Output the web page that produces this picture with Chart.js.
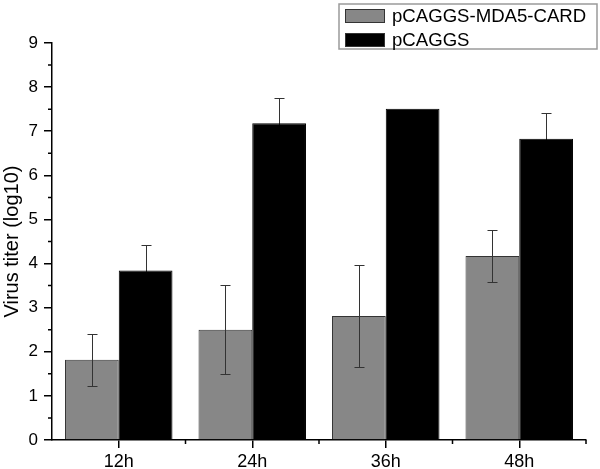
<!DOCTYPE html>
<html>
<head>
<meta charset="utf-8">
<script src="https://cdn.jsdelivr.net/npm/chart.js@4/dist/chart.umd.min.js"></script>
<style>
html,body{margin:0;padding:0;background:#fff;}
#wrap{width:600px;height:469px;position:relative;}
</style>
</head>
<body>
<div id="wrap"><canvas id="c" width="600" height="469"></canvas></div>
<script>
const categories = ["12h", "24h", "36h", "48h"];
const seriesNames = ["pCAGGS-MDA5-CARD", "pCAGGS"];
const mda5Values = [1.82, 2.50, 2.81, 4.17];
const mda5Errors = [0.59, 1.01, 1.15, 0.58];
const pcaggsValues = [3.84, 7.18, 7.51, 6.83];
const pcaggsErrors = [0.57, 0.58, 0, 0.58];
const yTicks = [0, 1, 2, 3, 4, 5, 6, 7, 8, 9];

const FONT = "'Liberation Sans', Arial, sans-serif";
const errors = [mda5Errors, pcaggsErrors];

function drawErrors(chart, di) {
  const ctx = chart.ctx;
  const ys = chart.scales.y;
  const ds = chart.data.datasets[di];
  const meta = chart.getDatasetMeta(di);
  ctx.save();
  ctx.strokeStyle = '#333';
  ctx.lineWidth = 1;
  meta.data.forEach((el, i) => {
    const e = errors[di][i];
    if (!e) return;
    const v = ds.data[i];
    const x = Math.round(el.x) + 0.5;
    const yt = Math.round(ys.getPixelForValue(v + e)) + 0.5;
    const yb = Math.round(ys.getPixelForValue(v - e)) + 0.5;
    ctx.beginPath();
    ctx.moveTo(x, yt); ctx.lineTo(x, yb);
    ctx.moveTo(x - 5, yt); ctx.lineTo(x + 5, yt);
    ctx.moveTo(x - 5, yb); ctx.lineTo(x + 5, yb);
    ctx.stroke();
  });
  ctx.restore();
}

const errorBarPlugin = {
  id: 'errorBars',
  beforeDatasetDraw(chart, args) { if (args.index === 1) drawErrors(chart, 1); },
  afterDatasetDraw(chart, args) { if (args.index === 0) drawErrors(chart, 0); }
};

const minorTickPlugin = {
  id: 'minorTicks',
  afterDraw(chart) {
    const ctx = chart.ctx;
    const ys = chart.scales.y, xs = chart.scales.x;
    const area = chart.chartArea;
    ctx.save();
    ctx.strokeStyle = '#000';
    ctx.lineWidth = 1.5;
    ctx.beginPath();
    for (let i = 0; i < yTicks.length - 1; i++) {
      const y = ys.getPixelForValue((yTicks[i] + yTicks[i + 1]) / 2);
      ctx.moveTo(area.left - 4, y); ctx.lineTo(area.left, y);
    }
    const step = xs.getPixelForValue(1) - xs.getPixelForValue(0);
    for (let i = 0; i < categories.length; i++) {
      const x = xs.getPixelForValue(i) + step / 2;
      ctx.moveTo(x, area.bottom); ctx.lineTo(x, area.bottom + 4);
    }
    ctx.stroke();
    ctx.restore();
  }
};

const legendPlugin = {
  id: 'boxLegend',
  afterDraw(chart) {
    const ctx = chart.ctx;
    ctx.save();
    ctx.strokeStyle = '#9a9a9a';
    ctx.lineWidth = 1.5;
    ctx.fillStyle = '#fff';
    ctx.fillRect(339, 4, 258, 45);
    ctx.strokeRect(339, 4, 258, 45);
    chart.data.datasets.forEach((ds, i) => {
      const y = 9 + i * 24;
      ctx.fillStyle = ds.backgroundColor;
      ctx.fillRect(345, y, 40, 14);
      ctx.strokeStyle = '#333';
      ctx.lineWidth = 1;
      ctx.strokeRect(345.5, y + 0.5, 39, 13);
      ctx.fillStyle = '#000';
      ctx.font = '18.6px ' + FONT;
      ctx.textBaseline = 'middle';
      ctx.textAlign = 'left';
      ctx.fillText(ds.label, 392, y + 7.5);
    });
    ctx.restore();
  }
};

new Chart(document.getElementById('c'), {
  type: 'bar',
  data: {
    labels: categories,
    datasets: [
      { label: seriesNames[0], data: mda5Values, backgroundColor: '#878787', borderColor: '#333', borderWidth: 1, borderSkipped: 'bottom' },
      { label: seriesNames[1], data: pcaggsValues, backgroundColor: '#000000', borderColor: '#000', borderWidth: 1, borderSkipped: 'bottom' }
    ]
  },
  options: {
    responsive: false,
    animation: false,
    devicePixelRatio: 1,
    layout: { padding: { left: 0, right: 14, top: 43, bottom: 0 } },
    plugins: { legend: { display: false }, tooltip: { enabled: false } },
    datasets: { bar: { categoryPercentage: 0.805, barPercentage: 1.0 } },
    scales: {
      x: {
        offset: true,
        grid: { display: true, offset: false, drawOnChartArea: false, drawTicks: true, tickLength: 8, color: '#000', lineWidth: 1.5 },
        border: { display: true, color: '#000', width: 1.5 },
        ticks: { color: '#000', font: { family: FONT, size: 18 }, padding: 3, maxRotation: 0 },
        afterFit(s) { s.height = 29; }
      },
      y: {
        min: 0, max: 9,
        afterBuildTicks(s) { s.ticks = yTicks.map(v => ({ value: v })); },
        grid: { display: true, drawOnChartArea: false, drawTicks: true, tickLength: 8, color: '#000', lineWidth: 1.5 },
        border: { display: true, color: '#000', width: 1.5 },
        ticks: { color: '#000', font: { family: FONT, size: 17 }, padding: 6 },
        title: { display: true, text: 'Virus titer (log10)', color: '#000', font: { family: FONT, size: 20 }, padding: 0 },
        afterFit(s) { s.width = 52; }
      }
    }
  },
  plugins: [errorBarPlugin, minorTickPlugin, legendPlugin]
});
</script>
</body>
</html>
